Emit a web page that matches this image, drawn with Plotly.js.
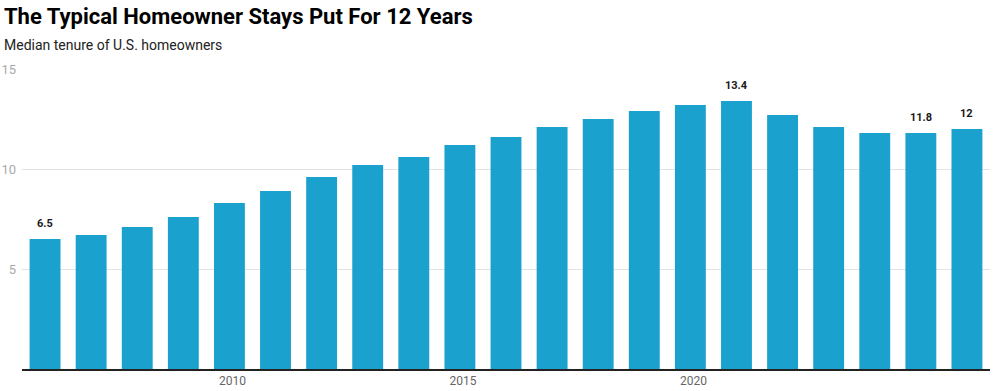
<!DOCTYPE html>
<html>
<head>
<meta charset="utf-8">
<script src="https://cdn.plot.ly/plotly-3.0.1.min.js"></script>
<style>html,body{margin:0;padding:0;background:#fff;}#chart{width:995px;height:391px;}</style>
</head>
<body>
<div id="chart"></div>
<script>
const years = [2006,2007,2008,2009,2010,2011,2012,2013,2014,2015,2016,2017,2018,2019,2020,2021,2022,2023,2024,2025,2026];
const tenure = [6.5,6.7,7.1,7.6,8.3,8.9,9.6,10.2,10.6,11.2,11.6,12.1,12.5,12.9,13.2,13.4,12.7,12.1,11.8,11.8,12];
const labeledYears = [2006,2021,2025,2026];
const xTickVals = [2010,2015,2020];
const yTickVals = [5,10,15];

const annotations = labeledYears.map(y => {
  const v = tenure[years.indexOf(y)];
  return {x: y, y: v, xref:'x', yref:'y', text: String(v), showarrow:false,
    yanchor:'bottom', yshift:7, font:{family:'Roboto', size:11, color:'#1a1a1a', weight:700}};
});
annotations.push({xref:'paper', yref:'paper', x:-0.0207, y:1.08, xanchor:'left', yanchor:'middle',
  text:'Median tenure of U.S. homeowners', showarrow:false, font:{family:'Roboto', size:14, color:'#222'}});

const trace = {type:'bar', x: years, y: tenure, marker:{color:'#1aa1cd'}, width:0.67, hoverinfo:'x+y'};

const layout = {
  width:995, height:391,
  margin:{l:22, r:5, t:69, b:22},
  paper_bgcolor:'#fff', plot_bgcolor:'#fff',
  title:{text:'<b>The Typical Homeowner Stays Put For 12 Years</b>', x:0.004, xanchor:'left', xref:'container',
    y:0.958, yanchor:'middle', yref:'container', font:{family:'Roboto', size:22, color:'#000'}},
  xaxis:{range:[2005.5,2026.5], tickvals:xTickVals, ticktext:xTickVals.map(String), showgrid:false,
    showline:true, linecolor:'#222', linewidth:1.5, ticks:'', ticklabelshift:3,
    tickfont:{family:'Roboto', size:12, color:'#666'}, zeroline:false, fixedrange:true},
  yaxis:{range:[0,15], tickvals:yTickVals, showgrid:true, gridcolor:'#e3e3e3', gridwidth:1,
    zeroline:false, showline:false, ticks:'', ticklabelstandoff:5,
    tickfont:{family:'Roboto', size:13, color:'#aaa'}, fixedrange:true},
  bargap:0.33,
  showlegend:false,
  annotations: annotations
};
Plotly.newPlot('chart', [trace], layout, {displayModeBar:false, staticPlot:true});
</script>
</body>
</html>
